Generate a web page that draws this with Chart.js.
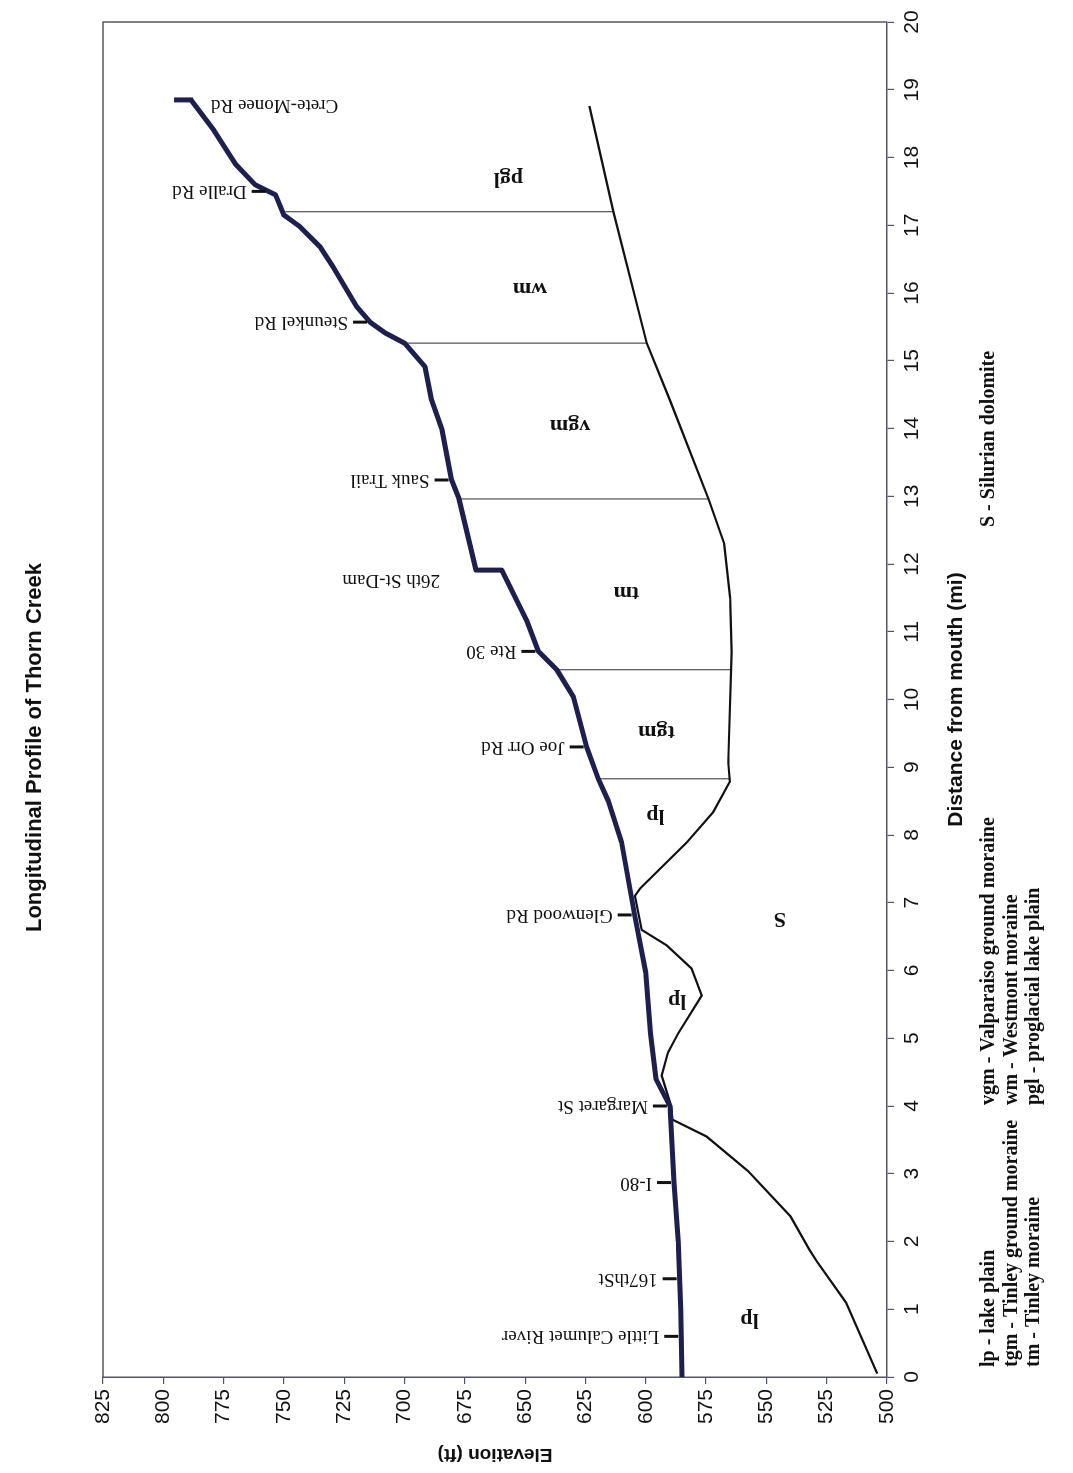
<!DOCTYPE html>
<html><head><meta charset="utf-8">
<script src="https://cdn.jsdelivr.net/npm/chart.js@4.4.1/dist/chart.umd.min.js"></script>
<style>
html,body{margin:0;padding:0;background:#fff;overflow:hidden;width:1073px;height:1473px;}
#wrap{position:absolute;left:0;top:0;width:1473px;height:1073px;transform-origin:0 0;transform:translate(0px,1473px) rotate(-90deg);background:#fff;}
canvas{display:block;}
</style></head><body>
<div id="wrap"><canvas id="c" width="1473" height="1073"></canvas></div>
<script>
// ---- data (distance from mouth in miles, elevation in feet) ----
const riverDist = [0, 1.0, 2.0, 2.87, 4.0, 4.4, 5.07, 5.97, 6.8, 7.89, 8.5, 8.83, 9.3, 10.04, 10.44, 10.71, 11.17, 11.91, 11.91, 12.96, 13.24, 14.0, 14.42, 14.91, 15.26, 15.41, 15.57, 15.8, 16.39, 16.68, 16.98, 17.15, 17.45, 17.6, 17.9, 18.4, 18.85];
const riverElev = [585, 585.5, 586.5, 588.3, 590, 595.8, 598, 600, 604.5, 610, 615.5, 619.7, 624.5, 630, 636.9, 644.5, 649.4, 659.7, 670.4, 677.4, 680.5, 684.6, 688.8, 691.5, 700, 708, 714.3, 719.9, 729.7, 735, 743.4, 750, 753.5, 762, 770, 779, 788.5];
const bedrockDist = [0.05, 1.1, 1.7, 1.87, 2.37, 3.04, 3.55, 3.8, 4.0, 4.45, 4.79, 5.07, 5.63, 6.03, 6.37, 6.6, 7.1, 7.21, 7.89, 8.34, 8.79, 9.07, 10.7, 11.5, 12.3, 12.96, 14.42, 15.26, 17.2, 18.76];
const bedrockElev = [504, 517, 529, 532, 540, 557.6, 574.8, 589, 589.5, 593.4, 590.8, 586.6, 576.8, 581, 591.3, 601.7, 604.5, 602.4, 583, 572, 565.1, 565.8, 564.4, 565, 567.5, 574, 590, 599.6, 613.4, 623.4];
const boundaryDist = [8.83, 10.44, 12.96, 15.26, 17.2];
const boundaryTop = [619.7, 636.9, 677.4, 700, 749.5];
const boundaryBottom = [565.1, 564.4, 574, 599.6, 613.4];
const roadNames = ['Little Calumet River', '167thSt', 'I-80', 'Margaret St', 'Glenwood Rd', 'Joe Orr Rd', 'Rte 30', '26th St-Dam', 'Sauk Trail', 'Steunkel Rd', 'Dralle Rd', 'Crete-Monee Rd'];
const roadDist = [0.6, 1.45, 2.87, 4.0, 6.82, 9.3, 10.71, 11.76, 13.24, 15.57, 17.5, 18.85];
const zoneNames = ['lp', 'lp', 'lp', 'S', 'tgm', 'tm', 'vgm', 'wm', 'pgl'];
const zoneDist = [0.85, 5.55, 8.28, 6.76, 9.53, 11.57, 14.04, 16.07, 17.69];
const zoneElev = [557, 587, 596, 544.4, 595.5, 608, 631.4, 648, 657];
const legendCol1 = ['lp - lake plain', 'tgm - Tinley ground moraine', 'tm - Tinley moraine'];
const legendCol2 = ['vgm - Valparaiso ground moraine', 'wm - Westmont moraine', 'pgl - proglacial lake plain'];
const legendCol3 = ['S - Silurian dolomite'];
const distMin = 0, distMax = 20, distStep = 1;
const elevMin = 500, elevMax = 825, elevStep = 25;
const chartTitle = 'Longitudinal Profile of Thorn Creek';
const xTitle = 'Distance from mouth (mi)';
const yTitle = 'Elevation (ft)';

function pts(xs, ys){ return xs.map((v,i)=>({x:v, y:ys[i]})); }
function riverAt(d){
  for (let i=0;i<riverDist.length-1;i++){
    const a=riverDist[i], b=riverDist[i+1];
    if (d>=a && d<=b){ if (b===a) return riverElev[i]; return riverElev[i]+(riverElev[i+1]-riverElev[i])*(d-a)/(b-a); }
  }
  return riverElev[riverElev.length-1];
}
function riverMaxNear(d, w){
  let m=-Infinity; riverDist.forEach((v,i)=>{ if (Math.abs(v-d)<=w) m=Math.max(m, riverElev[i]); });
  return m===-Infinity ? riverAt(d) : m;
}

const datasets = [
  {label:'river', data:pts(riverDist, riverElev), showLine:true, borderColor:'#1d1f4f', borderWidth:5, pointRadius:0, borderJoinStyle:'round', borderCapStyle:'butt', tension:0},
  {label:'bedrock', data:pts(bedrockDist, bedrockElev), showLine:true, borderColor:'#111', borderWidth:2.2, pointRadius:0, tension:0}
];
boundaryDist.forEach((d,i)=>{
  datasets.push({label:'b'+i, data:[{x:d,y:boundaryBottom[i]},{x:d,y:boundaryTop[i]}], showLine:true, borderColor:'#505050', borderWidth:1.2, pointRadius:0});
});

const annot = {
  id:'annot',
  afterDatasetsDraw(chart){
    const {ctx, chartArea:a} = chart;
    const x = chart.scales.x, y = chart.scales.y;
    ctx.save();
    ctx.strokeStyle = '#55556a'; ctx.lineWidth = 1.5;
    ctx.beginPath(); ctx.moveTo(a.left, a.top); ctx.lineTo(a.right, a.top); ctx.lineTo(a.right, a.bottom); ctx.stroke();
    ctx.font = '19px "Liberation Serif"'; ctx.fillStyle = '#111';
    roadNames.forEach((name,i)=>{
      const d = roadDist[i];
      const px = x.getPixelForValue(d);
      if (name === '26th St-Dam'){
        const py = y.getPixelForValue(riverMaxNear(d, 0.2));
        ctx.save(); ctx.translate(px, py-36); ctx.rotate(-Math.PI/2);
        ctx.textAlign='left'; ctx.textBaseline='middle'; ctx.fillText(name,0,0); ctx.restore();
      } else if (name === 'Crete-Monee Rd'){
        const py = y.getPixelForValue(riverAt(d));
        ctx.strokeStyle='#1d1f4f'; ctx.lineWidth=5;
        ctx.beginPath(); ctx.moveTo(px, py+2); ctx.lineTo(px, py-17); ctx.stroke();
        ctx.save(); ctx.translate(px-5, py+20); ctx.rotate(-Math.PI/2);
        ctx.textAlign='right'; ctx.textBaseline='middle'; ctx.fillText(name,0,0); ctx.restore();
      } else {
        const py = y.getPixelForValue(riverAt(d));
        ctx.strokeStyle='#111'; ctx.lineWidth=3;
        ctx.beginPath(); ctx.moveTo(px, py-3); ctx.lineTo(px, py-17); ctx.stroke();
        ctx.save(); ctx.translate(px, py-22); ctx.rotate(-Math.PI/2);
        ctx.textAlign='left'; ctx.textBaseline='middle'; ctx.fillText(name,0,0); ctx.restore();
      }
    });
    ctx.font = 'bold 22px "Liberation Serif"';
    zoneNames.forEach((n,i)=>{
      const px = x.getPixelForValue(zoneDist[i]), py = y.getPixelForValue(zoneElev[i]);
      ctx.save(); ctx.translate(px, py); ctx.rotate(-Math.PI/2);
      ctx.textAlign='center'; ctx.textBaseline='middle'; ctx.fillText(n,0,0); ctx.restore();
    });
    ctx.restore();
  },
  afterDraw(chart){
    const ctx = chart.ctx;
    ctx.save();
    ctx.font = 'bold 20px "Liberation Serif"'; ctx.fillStyle='#111';
    ctx.textAlign='left'; ctx.textBaseline='middle';
    const rows = [989, 1011.5, 1034];
    legendCol1.forEach((t,i)=>ctx.fillText(t, 106, rows[i]));
    legendCol2.forEach((t,i)=>ctx.fillText(t, 368, rows[i]));
    legendCol3.forEach((t,i)=>ctx.fillText(t, 946, rows[i]));
    ctx.restore();
  }
};

Chart.defaults.font.family = '"Liberation Sans", Arial, sans-serif';
Chart.defaults.color = '#111';
new Chart(document.getElementById('c'), {
  type:'scatter',
  data:{datasets},
  plugins:[annot],
  options:{
    responsive:false, animation:false, devicePixelRatio:1,
    layout:{padding:{left:0, right:22, top:0, bottom:96}},
    plugins:{
      legend:{display:false}, tooltip:{enabled:false},
      title:{display:true, text:chartTitle, color:'#111', font:{size:22, weight:'bold'}, padding:{top:22, bottom:54.6}}
    },
    scales:{
      x:{type:'linear', position:'bottom', min:distMin, max:distMax,
         ticks:{stepSize:distStep, font:{size:21}, color:'#111', padding:6, maxRotation:0},
         grid:{drawOnChartArea:false, tickLength:7, color:'#55556a', lineWidth:1.2},
         border:{display:true, color:'#55556a', width:1.5},
         title:{display:true, text:xTitle, font:{size:21, weight:'bold'}, color:'#111', padding:{top:0, bottom:8}},
         afterFit(s){ s.height = 90; }},
      y:{type:'linear', position:'left', min:elevMin, max:elevMax,
         ticks:{stepSize:elevStep, font:{size:21}, color:'#111', padding:5},
         grid:{drawOnChartArea:false, tickLength:7, color:'#55556a', lineWidth:1.2},
         border:{display:true, color:'#55556a', width:1.5},
         title:{display:true, text:yTitle, font:{size:19, weight:'bold'}, color:'#111', padding:{top:7, bottom:0}},
         afterFit(s){ s.width = 96; }}
    }
  }
});
</script>
</body></html>
